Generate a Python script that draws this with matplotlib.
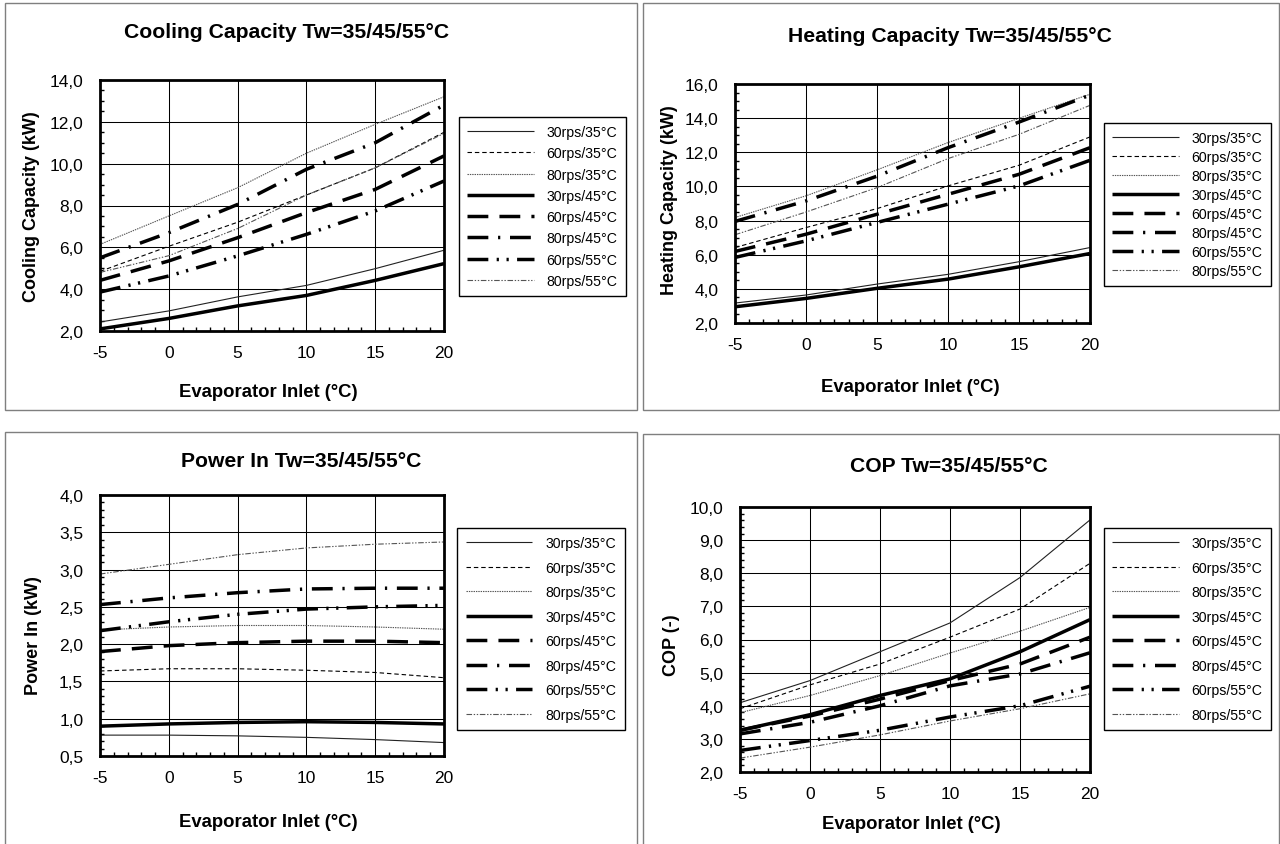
import matplotlib
matplotlib.use("Agg")
import matplotlib.pyplot as plt
from matplotlib.patches import Rectangle
from matplotlib.ticker import MultipleLocator, FuncFormatter

plt.rcParams["font.family"] = ["Liberation Sans", "DejaVu Sans"]
plt.rcParams["lines.scale_dashes"] = False
plt.rcParams["axes.unicode_minus"] = False

evap = [-5, 0, 5, 10, 15, 20]
labels = ["30rps/35°C", "60rps/35°C", "80rps/35°C", "30rps/45°C",
          "60rps/45°C", "80rps/45°C", "60rps/55°C", "80rps/55°C"]

cooling = [
    [2.43, 2.96, 3.63, 4.18, 4.98, 5.86],
    [4.85, 6.05, 7.20, 8.50, 9.80, 11.50],
    [6.14, 7.50, 8.85, 10.50, 11.88, 13.20],
    [2.10, 2.60, 3.20, 3.70, 4.42, 5.22],
    [4.42, 5.35, 6.46, 7.66, 8.77, 10.37],
    [5.50, 6.70, 8.05, 9.73, 11.00, 12.80],
    [3.86, 4.63, 5.59, 6.62, 7.74, 9.17],
    [4.80, 5.60, 6.90, 8.50, 9.80, 11.45],
]
heating = [
    [3.17, 3.64, 4.28, 4.85, 5.59, 6.42],
    [6.42, 7.59, 8.70, 10.03, 11.24, 12.90],
    [8.18, 9.45, 10.97, 12.57, 13.99, 15.40],
    [2.95, 3.44, 4.03, 4.57, 5.29, 6.07],
    [6.19, 7.20, 8.37, 9.54, 10.71, 12.27],
    [7.95, 9.15, 10.60, 12.27, 13.77, 15.35],
    [5.84, 6.81, 7.89, 8.96, 10.03, 11.53],
    [7.17, 8.50, 9.93, 11.63, 13.05, 14.75],
]
power = [
    [0.78, 0.78, 0.77, 0.75, 0.72, 0.68],
    [1.64, 1.67, 1.67, 1.65, 1.62, 1.55],
    [2.19, 2.23, 2.25, 2.25, 2.23, 2.20],
    [0.90, 0.93, 0.95, 0.96, 0.95, 0.93],
    [1.90, 1.98, 2.02, 2.04, 2.04, 2.02],
    [2.53, 2.62, 2.69, 2.74, 2.75, 2.75],
    [2.18, 2.30, 2.40, 2.47, 2.50, 2.52],
    [2.94, 3.07, 3.20, 3.29, 3.34, 3.37],
]
cop = [
    [4.09, 4.76, 5.63, 6.50, 7.87, 9.61],
    [3.91, 4.63, 5.26, 6.07, 6.92, 8.30],
    [3.79, 4.31, 4.91, 5.59, 6.25, 6.97],
    [3.26, 3.73, 4.31, 4.81, 5.63, 6.60],
    [3.26, 3.69, 4.20, 4.76, 5.26, 6.07],
    [3.15, 3.50, 4.00, 4.60, 4.96, 5.60],
    [2.65, 2.95, 3.26, 3.66, 4.00, 4.59],
    [2.42, 2.75, 3.12, 3.54, 3.91, 4.36],
]

styles = [
    dict(lw=0.8, ls="-", color="#222222"),
    dict(lw=0.8, ls=(0, (3.2, 2.1)), color="black"),
    dict(lw=0.8, ls=(0, (1, 0.7)), color="#555555"),
    dict(lw=2.5, ls="-", color="black"),
    dict(lw=2.5, ls=(0, (15, 8)), color="black"),
    dict(lw=2.5, ls=(0, (15, 7, 1.6, 7)), color="black"),
    dict(lw=2.5, ls=(0, (15, 6, 1.6, 5.5, 1.6, 6)), color="black"),
    dict(lw=0.8, ls=(0, (4, 1.2, 1, 1.2, 1, 1.2)), color="#555555"),
]

W, H = 1280, 845
fig = plt.figure(figsize=(12.8, 8.45), dpi=100, facecolor="white")


def fx(px):
    return px / W


def fy(py):
    return 1 - py / H


# panel frames
for x0, y0, x1, y1 in [(5, 4, 637, 411), (643, 4, 1279, 411), (5, 433, 637, 846), (643, 435, 1279, 846)]:
    fig.add_artist(Rectangle((fx(x0), fy(y1)), fx(x1 - x0), (y1 - y0) / H, fill=False,
                             ec="#7f7f7f", lw=1.0, transform=fig.transFigure))

comma = FuncFormatter(lambda v, p: f"{v:.1f}".replace(".", ","))

panels = [
    dict(data=cooling, box=(100, 81, 444, 332), ylim=(2, 14), major=2, minor=0.5,
         title="Cooling Capacity Tw=35/45/55°C", tpos=(287, 32),
         ylabel="Cooling Capacity (kW)", ypos=(32, 207), xpos=(268, 393),
         leg=(454, 117, 631, 298), lsp=0.51),
    dict(data=heating, box=(735, 85, 1090, 324), ylim=(2, 16), major=2, minor=0.5,
         title="Heating Capacity Tw=35/45/55°C", tpos=(950, 36),
         ylabel="Heating Capacity (kW)", ypos=(669, 200), xpos=(910, 388),
         leg=(1098, 123, 1277, 288), lsp=0.35),
    dict(data=power, box=(100, 496, 444, 757), ylim=(0.5, 4.0), major=0.5, minor=0.1,
         title="Power In Tw=35/45/55°C", tpos=(301, 462),
         ylabel="Power In (kW)", ypos=(33, 636), xpos=(268, 823),
         leg=(451, 528, 631, 732), lsp=0.74),
    dict(data=cop, box=(740, 508, 1090, 773), ylim=(2, 10), major=1, minor=0.2,
         title="COP Tw=35/45/55°C", tpos=(949, 467),
         ylabel="COP (-)", ypos=(671, 645), xpos=(911, 825),
         leg=(1098, 528, 1277, 732), lsp=0.74),
]

for p in panels:
    l, t, r, b = p["box"]
    ax = fig.add_axes([fx(l), fy(b), fx(r - l), (b - t) / H])
    for vals, lab, st in zip(p["data"], labels, styles):
        ax.plot(evap, vals, label=lab, solid_capstyle="butt", dash_capstyle="butt", **st)
    ax.set_xlim(-5, 20)
    ax.set_ylim(*p["ylim"])
    ax.xaxis.set_major_locator(MultipleLocator(5))
    ax.xaxis.set_minor_locator(MultipleLocator(1))
    ax.yaxis.set_major_locator(MultipleLocator(p["major"]))
    ax.yaxis.set_minor_locator(MultipleLocator(p["minor"]))
    ax.yaxis.set_major_formatter(comma)
    ax.grid(True, which="major", color="black", lw=0.75)
    ax.set_axisbelow(True)
    ax.tick_params(which="major", length=0, labelsize=12.5)
    ax.tick_params(axis="y", which="major", pad=12)
    ax.tick_params(axis="x", which="major", pad=10)
    ax.tick_params(which="minor", direction="in", length=3.2, width=1.0,
                   top=False, right=False)
    for s in ax.spines.values():
        s.set_linewidth(2.0)
    fig.text(fx(p["tpos"][0]), fy(p["tpos"][1]), p["title"], ha="center", va="center",
             fontsize=15.2, fontweight="bold")
    fig.text(fx(p["xpos"][0]), fy(p["xpos"][1]), "Evaporator Inlet (°C)", ha="center",
             va="center", fontsize=13.3, fontweight="bold")
    fig.text(fx(p["ypos"][0]), fy(p["ypos"][1]), p["ylabel"], ha="center", va="center",
             rotation=90, fontsize=13, fontweight="bold")
    lx0, ly0, lx1, ly1 = p["leg"]
    leg = fig.legend(*ax.get_legend_handles_labels(), loc="center",
                     bbox_to_anchor=(fx(lx0), fy(ly1), fx(lx1 - lx0), (ly1 - ly0) / H),
                     bbox_transform=fig.transFigure, fontsize=10.2, handlelength=4.7,
                     handletextpad=0.9, labelspacing=p["lsp"], borderpad=0.6,
                     fancybox=False, framealpha=1, edgecolor="black")
    leg.get_frame().set_linewidth(1.0)

fig.savefig("out.png", dpi=100, facecolor="white")
